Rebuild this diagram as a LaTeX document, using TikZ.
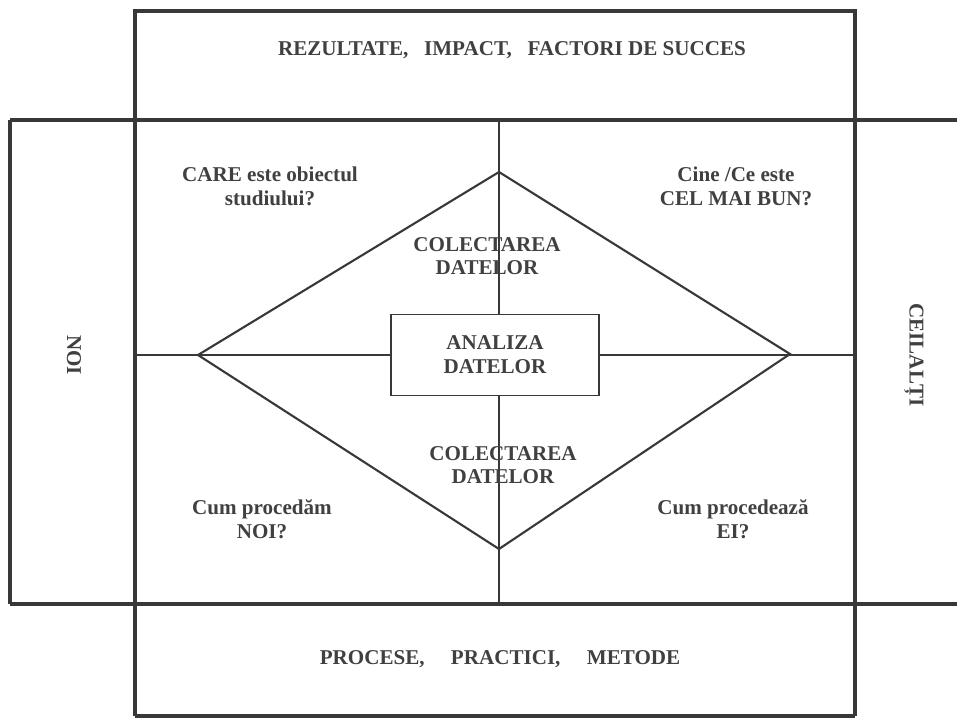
\documentclass[tikz,border=0pt]{standalone}
\usepackage{fontspec}
\setmainfont{Liberation Serif}
\usetikzlibrary{positioning}

\begin{document}
\begin{tikzpicture}[
    x=0.02cm, y=-0.02cm,
    frame/.style={line width=1.8pt, draw=black!78},
    cross/.style={line width=0.6pt, draw=black!78},
    rhomb/.style={line width=1.2pt, draw=black!78, line join=miter},
    txt/.style={font=\bfseries\fontsize{12}{13.5}\selectfont, text=black!75, align=center, inner sep=1pt},
    box/.style={rectangle, draw=black!78, line width=0.9pt, minimum width=4.16cm, minimum height=1.62cm, txt}
  ]
    \useasboundingbox (0,0) rectangle (957,719);

    % outer frame
    \draw[frame] (135,11) rectangle (855,120);
    \draw[frame] (10,120) -- (957,120);
    \draw[frame] (10,604) -- (957,604);
    \draw[frame] (10,120) -- (10,604);
    \draw[frame] (135,120) -- (135,716);
    \draw[frame] (855,120) -- (855,716);
    \draw[frame] (135,716) -- (855,716);

    % centre
    \node[box] (analiza) at (495,355) {ANALIZA\\DATELOR};
    \coordinate (upmid) at (499,120);
    \coordinate (downmid) at (499,604);
    \coordinate (leftmid) at (135,355);
    \coordinate (rightmid) at (855,355);
    \draw[cross] (upmid) -- (upmid |- analiza.north);
    \draw[cross] (downmid |- analiza.south) -- (downmid);
    \draw[cross] (leftmid) -- (analiza.west);
    \draw[cross] (analiza.east) -- (rightmid);

    % diamond
    \coordinate (dtop) at (499,172);
    \coordinate (dright) at (790,354);
    \coordinate (dbot) at (499,549);
    \coordinate (dleft) at (198,355);
    \draw[rhomb] (dtop) -- (dright) -- (dbot) -- (dleft) -- cycle;

    % labels
    \node[txt] (result) at (512,50) {REZULTATE,\ \ \ IMPACT,\ \ \ FACTORI DE SUCCES};
    \node[txt] (metode) at (500,659) {PROCESE,\quad\ PRACTICI,\quad\ METODE};
    \node[txt, rotate=-90] (noi) at (74,355) {NOI};
    \node[txt, rotate=-90] (ceilalti) at (914,355) {CEILALȚI};
    \node[txt] (care) at (270,186) {CARE este obiectul\\studiului?};
    \node[txt] (cine) at (736,186) {Cine /Ce este\\CEL MAI BUN?};
    \node[txt] (colsus) at (487,256) {COLECTAREA\\DATELOR};
    \node[txt] (coljos) at (503,465) {COLECTAREA\\DATELOR};
    \node[txt] (noi2) at (262,519) {Cum procedăm\\NOI?};
    \node[txt] (ei) at (733,519) {Cum procedează\\EI?};
  \end{tikzpicture}
\end{document}
